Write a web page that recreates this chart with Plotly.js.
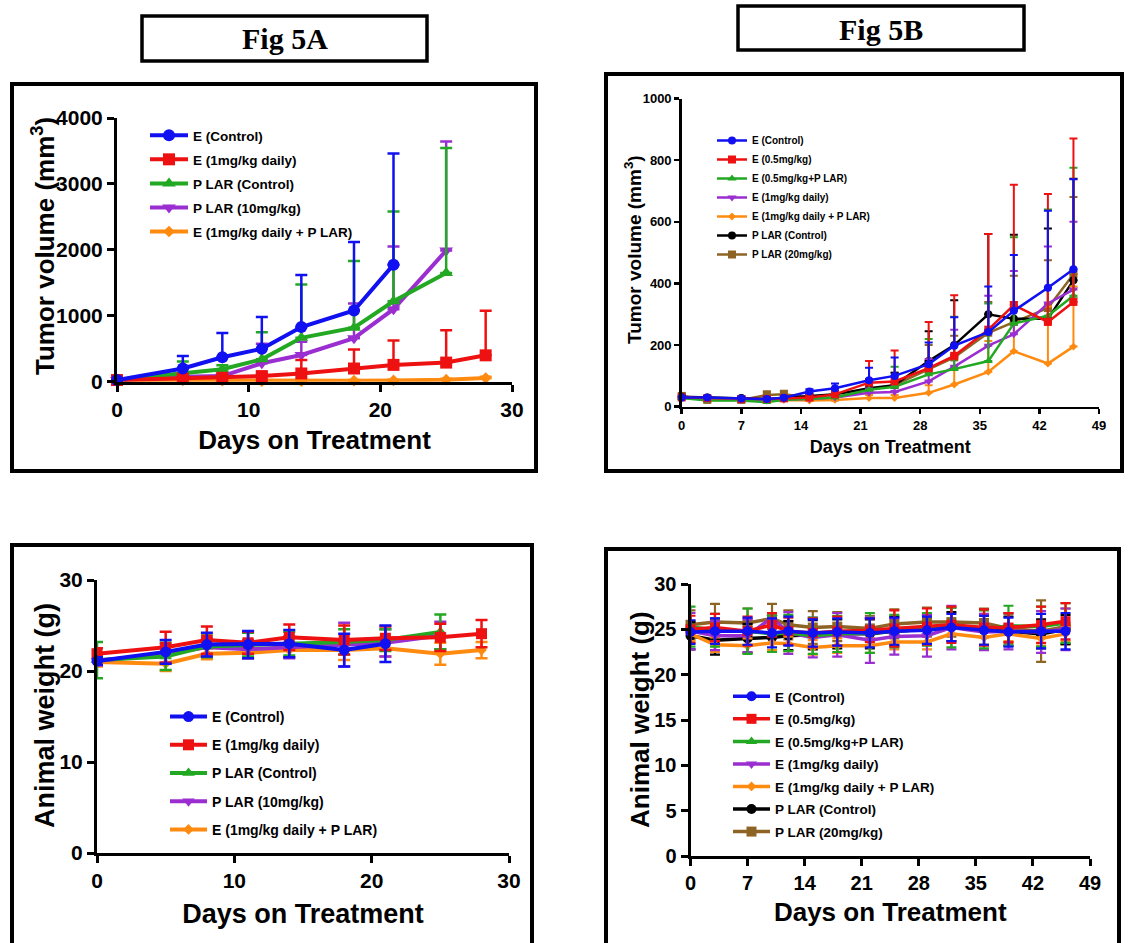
<!DOCTYPE html>
<html><head><meta charset="utf-8">
<script src="https://cdn.plot.ly/plotly-3.0.1.min.js"></script>
<style>html,body{margin:0;padding:0;background:#fff}</style>
</head><body><div id="chart" style="width:1129px;height:943px"></div>
<script>
// ---------------- DATA ----------------
// Fig 5A tumor volume (mm3) & animal weight (g)
const daysA = [0, 5, 8, 11, 14, 18, 21, 25, 28];
const namesA = ["E (Control)", "E (1mg/kg daily)", "P LAR (Control)", "P LAR (10mg/kg)", "E (1mg/kg daily + P LAR)"];
const tumA_Ectrl     = [25, 200, 370, 500, 830, 1080, 1775];
const tumA_Ectrl_err = [20, 190, 367, 480, 790, 1040, 1685];
const tumA_E1        = [25, 50, 60, 85, 125, 200, 255, 290, 400];
const tumA_E1_err    = [10, 30, 30, 50, 205, 290, 370, 490, 675];
const tumA_Pctrl     = [25, 130, 190, 340, 665, 820, 1220, 1650];
const tumA_Pctrl_err = [10, 175, 60, 410, 810, 1010, 1360, 1895];
const tumA_P10       = [25, 75, 85, 280, 405, 660, 1100, 1990];
const tumA_P10_err   = [10, 30, 30, 295, 200, 525, 950, 1655];
const tumA_combo     = [25, 20, 15, 10, 10, 15, 20, 30, 55];
const tumA_combo_err = [5, 10, 10, 10, 10, 10, 10, 15, 20];

const wtA_Ectrl      = [21.1, 22.1, 22.9, 22.9, 23.0, 22.3, 23.0];
const wtA_Ectrl_err  = [0.4, 1.3, 1.3, 1.5, 1.5, 1.8, 2.0];
const wtA_E1         = [21.9, 22.6, 23.4, 23.1, 23.7, 23.4, 23.6, 23.7, 24.1];
const wtA_E1_err     = [0.6, 1.7, 1.5, 1.2, 1.4, 1.6, 1.3, 1.5, 1.5];
const wtA_Pctrl      = [21.2, 21.6, 22.7, 22.9, 23.0, 23.2, 23.4, 24.3];
const wtA_Pctrl_err  = [2.0, 1.5, 1.2, 1.3, 1.3, 1.4, 1.2, 1.9];
const wtA_P10        = [21.1, 21.9, 22.6, 22.4, 22.6, 22.9, 23.1, 23.9];
const wtA_P10_err    = [0.5, 1.0, 1.0, 1.0, 1.2, 2.4, 1.5, 1.5];
const wtA_combo      = [21.0, 20.8, 21.9, 22.0, 22.3, 22.3, 22.5, 21.9, 22.3];
const wtA_combo_err  = [0.5, 0.8, 0.6, 0.6, 0.8, 1.1, 0.9, 1.2, 0.9];

// Fig 5B tumor volume (mm3) & animal weight (g)
const daysB = [0, 3, 7, 10, 12, 15, 18, 22, 25, 29, 32, 36, 39, 43, 46];
const namesB = ["E (Control)", "E (0.5mg/kg)", "E (0.5mg/kg+P LAR)", "E (1mg/kg daily)", "E (1mg/kg daily + P LAR)", "P LAR (Control)", "P LAR (20mg/kg)"];
const tumB_Ectrl     = [30, 30, 27, 25, 29, 49, 60, 86, 100, 138, 198, 242, 311, 386, 446];
const tumB_Ectrl_err = [5, 5, 5, 5, 5, 8, 15, 40, 60, 70, 92, 148, 181, 250, 292];
const tumB_E05       = [30, 28, 25, 25, 27, 30, 40, 78, 82, 125, 165, 250, 330, 275, 340];
const tumB_E05_err   = [5, 5, 5, 5, 5, 5, 10, 70, 100, 150, 197, 310, 390, 415, 530];
const tumB_E05P      = [28, 20, 20, 15, 22, 25, 30, 55, 65, 105, 122, 148, 270, 295, 360];
const tumB_E05P_err  = [5, 5, 5, 5, 5, 5, 8, 30, 65, 115, 170, 187, 280, 345, 415];
const tumB_E1        = [28, 25, 22, 20, 24, 25, 30, 45, 48, 82, 130, 198, 235, 335, 380];
const tumB_E1_err    = [5, 5, 5, 5, 5, 5, 8, 15, 20, 73, 120, 162, 205, 185, 220];
const tumB_E1P       = [30, 25, 22, 20, 22, 20, 22, 28, 28, 45, 72, 113, 180, 140, 195];
const tumB_E1P_err   = [5, 5, 5, 5, 5, 5, 5, 10, 10, 25, 50, 100, 160, 185, 195];
const tumB_Pctrl     = [32, 30, 28, 25, 28, 35, 40, 60, 70, 148, 200, 300, 285, 285, 410];
const tumB_Pctrl_err = [5, 5, 5, 5, 5, 5, 10, 30, 40, 97, 145, 260, 273, 293, 330];
const tumB_P20       = [35, 22, 22, 38, 40, 30, 30, 55, 70, 120, 160, 240, 275, 320, 430];
const tumB_P20_err   = [8, 5, 5, 12, 12, 5, 10, 25, 40, 80, 70, 100, 150, 155, 250];

const wtB_Ectrl      = [24.7, 24.8, 24.8, 24.6, 24.8, 24.6, 24.7, 24.6, 24.8, 24.9, 25.2, 24.9, 24.7, 24.8, 24.8];
const wtB_Ectrl_err  = [1.3, 1.4, 1.5, 1.6, 1.6, 1.5, 1.5, 1.6, 1.5, 1.5, 1.5, 1.6, 1.6, 1.9, 2.0];
const wtB_E05        = [25.0, 25.2, 24.8, 25.5, 24.8, 24.6, 24.8, 24.9, 25.1, 25.3, 25.5, 25.2, 25.2, 25.5, 25.9];
const wtB_E05_err    = [1.5, 1.5, 1.6, 1.3, 1.5, 1.6, 1.6, 1.3, 2.0, 2.0, 2.0, 2.0, 1.6, 2.0, 2.0];
const wtB_E05P       = [25.3, 24.9, 24.8, 24.5, 24.6, 24.3, 24.5, 24.6, 24.8, 25.0, 25.2, 25.0, 25.4, 25.3, 25.7];
const wtB_E05P_err   = [2.2, 1.8, 2.5, 2.0, 2.0, 2.0, 2.0, 2.2, 1.8, 1.8, 2.2, 2.1, 2.2, 2.2, 2.2];
const wtB_E1         = [24.8, 24.3, 24.3, 26.3, 24.6, 24.1, 24.4, 23.8, 24.2, 24.3, 25.2, 24.7, 24.8, 24.7, 25.0];
const wtB_E1_err     = [2.0, 1.6, 1.8, 0.5, 2.3, 2.2, 2.4, 2.5, 2.0, 2.3, 2.4, 2.0, 2.0, 2.3, 2.3];
const wtB_E1P        = [24.5, 23.3, 23.2, 23.5, 23.4, 23.0, 23.2, 23.2, 23.6, 23.6, 24.5, 24.1, 24.5, 24.0, 24.5];
const wtB_E1P_err    = [0.8, 0.8, 0.8, 0.8, 0.8, 0.8, 0.8, 0.8, 0.8, 0.8, 0.8, 0.8, 0.8, 0.8, 0.8];
const wtB_Pctrl      = [24.3, 23.8, 24.0, 24.1, 24.3, 24.4, 24.5, 24.5, 24.8, 25.0, 25.3, 24.9, 24.8, 24.5, 25.0];
const wtB_Pctrl_err  = [1.5, 1.6, 1.6, 1.6, 1.6, 1.6, 1.6, 1.6, 1.6, 1.6, 1.6, 1.6, 1.6, 1.6, 1.6];
const wtB_P20        = [25.5, 25.8, 25.7, 26.2, 25.5, 25.2, 25.3, 25.1, 25.6, 25.8, 25.8, 25.7, 25.1, 24.8, 25.3];
const wtB_P20_err    = [1.6, 2.0, 1.6, 1.6, 1.6, 1.8, 1.6, 1.4, 1.6, 1.6, 1.6, 1.6, 1.6, 3.4, 2.0];

const ticksA_x = [0, 10, 20, 30];
const ticksA_tum = [0, 1000, 2000, 3000, 4000];
const ticksA_wt = [0, 10, 20, 30];
const ticksB_x = [0, 7, 14, 21, 28, 35, 42, 49];
const ticksB_tum = [0, 200, 400, 600, 800, 1000];
const ticksB_wt = [0, 5, 10, 15, 20, 25, 30];

const xTitle = 'Days on Treatment';
const yTitleTumor = 'Tumor volume (mm<sup>3</sup>)';
const yTitleWeight = 'Animal weight (g)';

// ---------------- STYLE ----------------
const W = 1129, H = 943;
const px = v => v / W, py = v => 1 - v / H;
const SANS = 'Arial, "Liberation Sans", Helvetica, sans-serif';
const SERIF = '"Times New Roman", "Liberation Serif", serif';
const C = {blue:'#1010f0', red:'#ee1111', green:'#22a822', purple:'#9a2ed0', orange:'#ff8a10', black:'#000000', brown:'#8e6424'};

function tr(x, y, err, name, color, symbol, xa, ya, leg, rank, st, upOnly) {
  const n = y.length;
  return {
    type:'scatter', mode:'lines+markers', x:x.slice(0, n), y:y, name:name,
    xaxis:xa, yaxis:ya, legend:leg, legendgroup:leg + name, legendrank:rank,
    cliponaxis:false,
    line:{color:color, width:st.lw},
    marker:{color:color, symbol:symbol, size:(symbol==='diamond'? st.ms*0.75 : st.ms), line:{width:0}},
    error_y: upOnly ? {type:'data', symmetric:false, array:err, arrayminus:err.map(()=>0), color:color, thickness:st.et, width:st.ew}
                    : {type:'data', symmetric:true, array:err, color:color, thickness:st.et, width:st.ew}
  };
}
const stA = {lw:4, ms:12, et:2.5, ew:6};
const stB = {lw:2.5, ms:8, et:2, ew:4};
const stC = {lw:4, ms:11, et:2.5, ew:6};
const stD = {lw:3.5, ms:10, et:2.2, ew:5};

const data = [];
// reverse order so that the first series is drawn on top
const A = [[tumA_Ectrl,tumA_Ectrl_err,C.blue,'circle'],[tumA_E1,tumA_E1_err,C.red,'square'],[tumA_Pctrl,tumA_Pctrl_err,C.green,'triangle-up'],[tumA_P10,tumA_P10_err,C.purple,'triangle-down'],[tumA_combo,tumA_combo_err,C.orange,'diamond']];
for (let i = A.length-1; i >= 0; i--) data.push(tr(daysA, A[i][0], A[i][1], namesA[i], A[i][2], A[i][3], 'x', 'y', 'legend', i+1, stA, true));
const Bt = [[tumB_Ectrl,tumB_Ectrl_err,C.blue,'circle'],[tumB_E05,tumB_E05_err,C.red,'square'],[tumB_E05P,tumB_E05P_err,C.green,'triangle-up'],[tumB_E1,tumB_E1_err,C.purple,'triangle-down'],[tumB_E1P,tumB_E1P_err,C.orange,'diamond'],[tumB_Pctrl,tumB_Pctrl_err,C.black,'circle'],[tumB_P20,tumB_P20_err,C.brown,'square']];
for (let i = Bt.length-1; i >= 0; i--) data.push(tr(daysB, Bt[i][0], Bt[i][1], namesB[i], Bt[i][2], Bt[i][3], 'x2', 'y2', 'legend2', i+1, stB, true));
const Cw = [[wtA_Ectrl,wtA_Ectrl_err,C.blue,'circle'],[wtA_E1,wtA_E1_err,C.red,'square'],[wtA_Pctrl,wtA_Pctrl_err,C.green,'triangle-up'],[wtA_P10,wtA_P10_err,C.purple,'triangle-down'],[wtA_combo,wtA_combo_err,C.orange,'diamond']];
for (let i = Cw.length-1; i >= 0; i--) data.push(tr(daysA, Cw[i][0], Cw[i][1], namesA[i], Cw[i][2], Cw[i][3], 'x3', 'y3', 'legend3', i+1, stC, false));
const Dw = [[wtB_Ectrl,wtB_Ectrl_err,C.blue,'circle'],[wtB_E05,wtB_E05_err,C.red,'square'],[wtB_E05P,wtB_E05P_err,C.green,'triangle-up'],[wtB_E1,wtB_E1_err,C.purple,'triangle-down'],[wtB_E1P,wtB_E1P_err,C.orange,'diamond'],[wtB_Pctrl,wtB_Pctrl_err,C.black,'circle'],[wtB_P20,wtB_P20_err,C.brown,'square']];
for (let i = Dw.length-1; i >= 0; i--) data.push(tr(daysB, Dw[i][0], Dw[i][1], namesB[i], Dw[i][2], Dw[i][3], 'x4', 'y4', 'legend4', i+1, stD, false));

function axis(domain, range, tickvals, tsize, lw, tlen, title, tfont, standoff, anchor) {
  const a = {domain:domain, range:range, tickvals:tickvals, ticktext:tickvals.map(String), showgrid:false, zeroline:false,
    showline:true, linecolor:'#000', linewidth:lw, ticks:'outside', ticklen:tlen, tickwidth:lw, tickcolor:'#000',
    tickfont:{family:SANS, size:tsize, color:'#000', weight:700}, anchor:anchor, fixedrange:true};
  if (title) a.title = {text:title, font:{family:SANS, size:tfont, color:'#000', weight:700}, standoff:standoff};
  return a;
}
function leg(x, y, size, gap, iw) {
  return {x:px(x), y:py(y), xanchor:'left', yanchor:'top', xref:'paper', yref:'paper', bgcolor:'rgba(0,0,0,0)',
    font:{family:SANS, size:size, color:'#000', weight:700}, tracegroupgap:gap, traceorder:'grouped', borderwidth:0, itemwidth:iw};
}
function ytitle(text, x, y, size) {
  return {text:text, xref:'paper', yref:'paper', x:px(x), y:py(y), xanchor:'center', yanchor:'middle', textangle:-90,
    showarrow:false, font:{family:SANS, size:size, color:'#000', weight:700}};
}
const layout = {
  width:W, height:H, margin:{l:0, r:0, t:0, b:0}, paper_bgcolor:'#fff', plot_bgcolor:'rgba(0,0,0,0)',
  font:{family:SANS, color:'#000'}, showlegend:true,
  xaxis:  axis([px(117), px(512)], [0, 30], ticksA_x, 21, 3, 7, xTitle, 26, 11, 'y'),
  yaxis:  axis([py(381.7), py(118)], [0, 4000], ticksA_tum, 21, 3, 7, null, 0, 0, 'x'),
  xaxis2: axis([px(681.7), px(1099)], [0, 49], ticksB_x, 13, 2.5, 5, xTitle, 18, 9, 'y2'),
  yaxis2: axis([py(406.7), py(98.5)], [0, 1000], ticksB_tum, 13, 2.5, 5, null, 0, 0, 'x2'),
  xaxis3: axis([px(97), px(509)], [0, 30], ticksA_x, 21, 3, 7, xTitle, 27, 13, 'y3'),
  yaxis3: axis([py(853), py(580)], [0, 30], ticksA_wt, 21, 3, 7, null, 0, 0, 'x3'),
  xaxis4: axis([px(690.5), px(1090)], [0, 49], ticksB_x, 20, 3, 7, xTitle, 26, 10, 'y4'),
  yaxis4: axis([py(856), py(584)], [0, 30], ticksB_wt, 20, 3, 7, null, 0, 0, 'x4'),
  legend:  leg(145, 120, 13.5, 3.5, 38),
  legend2: leg(712, 126, 10, 0, 30),
  legend3: leg(165, 701, 14, 7, 37),
  legend4: leg(728, 681, 13.5, 2, 37),
  shapes: [
    {type:'rect', xref:'paper', yref:'paper', x0:px(142), x1:px(427), y0:py(16), y1:py(61), line:{color:'#000', width:3.5}},
    {type:'rect', xref:'paper', yref:'paper', x0:px(738), x1:px(1024), y0:py(6), y1:py(50), line:{color:'#000', width:3.5}},
    {type:'rect', xref:'paper', yref:'paper', x0:px(12), x1:px(536), y0:py(84), y1:py(471), line:{color:'#000', width:4}},
    {type:'rect', xref:'paper', yref:'paper', x0:px(606), x1:px(1122), y0:py(74), y1:py(471), line:{color:'#000', width:4}},
    {type:'rect', xref:'paper', yref:'paper', x0:px(12), x1:px(532), y0:py(545), y1:py(950), line:{color:'#000', width:4}},
    {type:'rect', xref:'paper', yref:'paper', x0:px(606), x1:px(1119), y0:py(549), y1:py(950), line:{color:'#000', width:4}}
  ],
  annotations: [
    {text:'Fig 5A', xref:'paper', yref:'paper', x:px(284.5), y:py(39), xanchor:'center', yanchor:'middle', showarrow:false, font:{family:SERIF, size:30, color:'#000', weight:700}},
    {text:'Fig 5B', xref:'paper', yref:'paper', x:px(881), y:py(29), xanchor:'center', yanchor:'middle', showarrow:false, font:{family:SERIF, size:30, color:'#000', weight:700}},
    ytitle(yTitleTumor, 43, 246, 26),
    ytitle(yTitleTumor, 633, 250, 19),
    ytitle(yTitleWeight, 45, 716, 27),
    ytitle(yTitleWeight, 640, 720, 26)
  ]
};
Plotly.newPlot('chart', data, layout, {displayModeBar:false, staticPlot:true});
</script></body></html>
